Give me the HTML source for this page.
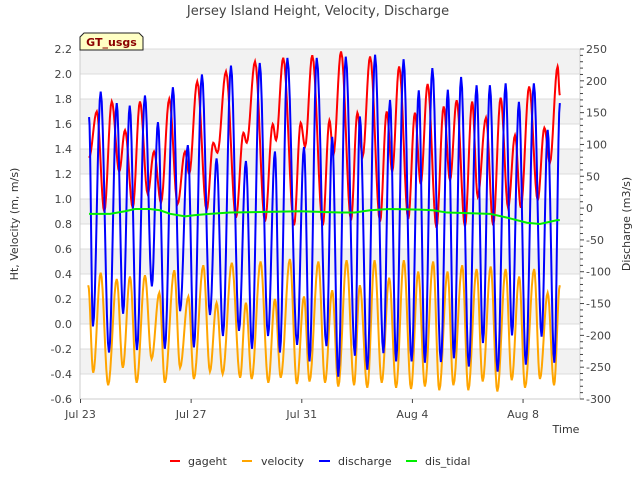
<!DOCTYPE html>
<html><head><meta charset="utf-8"><style>
html,body{margin:0;padding:0;background:#fff;}
svg{display:block;font-family:"DejaVu Sans","Liberation Sans",sans-serif;}
</style></head><body>
<svg id="chart" width="640" height="480" viewBox="0 0 640 480" xmlns="http://www.w3.org/2000/svg">
<text x="318" y="15" text-anchor="middle" font-size="13" fill="#444">Jersey Island Height, Velocity, Discharge</text>
<g id="bands"></g>
<g id="grid"></g>
<g id="series"></g>
<g id="axes"></g>
<g>
<path d="M80,50 L80,37 L84,33 L139,33 L143,37 L143,50 Z" fill="#ffffc4" stroke="#222" stroke-width="1"/>
<text x="111.5" y="46" text-anchor="middle" font-size="11" font-weight="bold" fill="#8b0000">GT_usgs</text>
</g>
<text transform="translate(18,224) rotate(-90)" text-anchor="middle" font-size="11" fill="#333">Ht, Velocity (m, m/s)</text>
<text transform="translate(630,224) rotate(-90)" text-anchor="middle" font-size="11" fill="#333">Discharge (m3/s)</text>
<text x="566" y="433" text-anchor="middle" font-size="11" fill="#333">Time</text>
<g>
<g><line x1="170" y1="461" x2="180" y2="461" stroke="#ff0000" stroke-width="2"/><text x="188" y="465" font-size="11" fill="#333">gageht</text></g>
<g><line x1="242" y1="461" x2="252" y2="461" stroke="#ffa500" stroke-width="2"/><text x="261" y="465" font-size="11" fill="#333">velocity</text></g>
<g><line x1="319" y1="461" x2="330" y2="461" stroke="#0000ff" stroke-width="2"/><text x="338" y="465" font-size="11" fill="#333">discharge</text></g>
<g><line x1="406" y1="461" x2="417" y2="461" stroke="#00ee00" stroke-width="2"/><text x="425" y="465" font-size="11" fill="#333">dis_tidal</text></g>
</g>
</svg>
<script>
// days since Jul 23 00:00
const xTickLabels = ["Jul 23","Jul 27","Jul 31","Aug 4","Aug 8"];
const xTickDays = [0,4,8,12,16];
const leftTicks = [-0.6,-0.4,-0.2,0.0,0.2,0.4,0.6,0.8,1.0,1.2,1.4,1.6,1.8,2.0,2.2];
const rightTicks = [-300,-250,-200,-150,-100,-50,0,50,100,150,200,250];

const dischargeT = [0.31,0.45,0.73,1.03,1.31,1.54,1.78,2.04,2.33,2.58,2.80,3.05,3.34,3.60,3.88,4.10,4.39,4.68,4.92,5.15,5.44,5.73,5.98,6.20,6.48,6.78,7.03,7.21,7.48,7.83,8.08,8.28,8.54,8.89,9.10,9.32,9.59,9.92,10.10,10.37,10.65,10.95,11.19,11.41,11.68,11.97,12.23,12.45,12.72,13.03,13.28,13.50,13.76,14.04,14.32,14.55,14.80,15.08,15.37,15.60,15.85,16.10,16.39,16.67,16.89,17.13,17.33];
const dischargeV = [143,-186,183,-227,165,-166,161,-223,177,-123,135,-221,190,-162,99,-219,210,-168,78,-201,224,-193,74,-221,228,-201,89,-227,236,-215,96,-241,236,-217,112,-265,238,-232,144,-254,241,-228,170,-241,234,-241,185,-243,220,-242,186,-236,206,-249,193,-212,193,-257,196,-200,167,-246,196,-202,123,-243,165];

const gagehtT = [0.31,0.59,0.86,1.13,1.40,1.61,1.89,2.15,2.43,2.66,2.91,3.21,3.51,3.78,3.93,4.22,4.56,4.80,4.95,5.26,5.62,5.89,6.01,6.31,6.67,6.95,7.07,7.33,7.72,7.96,8.12,8.38,8.76,9.00,9.14,9.42,9.78,10.01,10.20,10.47,10.83,11.07,11.27,11.52,11.85,12.09,12.30,12.55,12.87,13.13,13.36,13.60,13.90,14.16,14.36,14.66,14.92,15.19,15.46,15.71,15.92,16.22,16.53,16.77,16.97,17.25,17.33];
const gagehtV = [1.33,1.70,0.90,1.78,1.22,1.55,0.93,1.78,1.04,1.38,0.97,1.80,0.96,1.38,1.20,1.94,0.91,1.45,1.37,2.02,0.85,1.53,1.45,2.10,0.82,1.60,1.47,2.13,0.79,1.61,1.42,2.15,0.79,1.63,1.35,2.18,0.83,1.69,1.34,2.14,0.82,1.70,1.22,2.06,0.84,1.69,1.12,1.92,0.77,1.74,1.15,1.79,0.78,1.78,1.02,1.65,0.79,1.81,0.93,1.51,0.93,1.90,0.99,1.57,1.29,2.06,1.83];

const velocityT = [0.28,0.46,0.73,1.00,1.31,1.53,1.79,2.03,2.33,2.57,2.85,3.05,3.39,3.60,3.90,4.10,4.44,4.68,4.92,5.14,5.47,5.77,5.98,6.19,6.51,6.79,7.03,7.24,7.57,7.82,8.08,8.28,8.60,8.84,9.10,9.32,9.62,9.89,10.10,10.37,10.63,10.89,11.16,11.41,11.69,11.95,12.21,12.45,12.75,12.97,13.27,13.48,13.80,14.02,14.32,14.54,14.83,15.07,15.37,15.59,15.86,16.07,16.40,16.61,16.89,17.12,17.33];
const velocityV = [0.31,-0.39,0.41,-0.49,0.36,-0.35,0.38,-0.47,0.39,-0.28,0.25,-0.47,0.43,-0.35,0.22,-0.44,0.47,-0.38,0.17,-0.40,0.49,-0.43,0.17,-0.44,0.50,-0.47,0.20,-0.43,0.52,-0.48,0.22,-0.46,0.50,-0.47,0.27,-0.50,0.51,-0.49,0.31,-0.51,0.51,-0.47,0.37,-0.51,0.51,-0.52,0.42,-0.50,0.50,-0.53,0.42,-0.49,0.47,-0.53,0.44,-0.46,0.46,-0.54,0.44,-0.45,0.38,-0.51,0.44,-0.44,0.25,-0.49,0.31];

const tidalT = [0.31,1.07,1.61,1.97,2.51,2.87,3.24,3.78,4.14,4.68,5.40,7.94,9.38,9.92,10.47,11.19,12.27,12.74,13.25,13.97,14.81,15.42,16.14,16.61,17.23,17.33];
const tidalV = [-9,-9,-5,-1.4,-1.4,-3.4,-9,-13,-11,-9,-7,-5,-7,-7,-3.4,-1.4,-2.4,-3.4,-7,-8,-9,-15,-23,-25,-19,-19];

const P = {l:80, r:580, t:49, b:399};
const X0 = 80.5, PXD = 27.66;
function xs(d){ return X0 + d*PXD; }
function yl(v){ return P.t + (2.2 - v)/2.8*(P.b-P.t); }
function yr(q){ return P.t + (250 - q)/550*(P.b-P.t); }
const NS="http://www.w3.org/2000/svg";
function mk(tag, attrs, parent){ const e=document.createElementNS(NS,tag); for(const k in attrs) e.setAttribute(k,attrs[k]); parent.appendChild(e); return e; }

const bands=document.getElementById('bands');
const r0 = mk('rect',{x:P.l,y:P.t,width:P.r-P.l,height:P.b-P.t,fill:'#ffffff'},bands);


for(let i=0;i<leftTicks.length-1;i++){
  const hi=leftTicks[leftTicks.length-1-i], lo=leftTicks[leftTicks.length-2-i];
  if(i%2===0){
    const b=mk('rect',{x:P.l,y:yl(hi),width:P.r-P.l,height:yl(lo)-yl(hi),fill:'#f2f2f2'},bands);
    
    
  }
}
const grid=document.getElementById('grid');
leftTicks.forEach(v=>{
  const g=mk('line',{x1:P.l,x2:P.r,y1:yl(v),y2:yl(v),stroke:'#dcdcdc','stroke-width':1},grid);
  
  
});

function smoothPath(T,V,yf){
  let d='M'+xs(T[0]).toFixed(2)+','+yf(V[0]).toFixed(2);
  for(let i=0;i<T.length-1;i++){
    const n=8;
    for(let k=1;k<=n;k++){
      const s=k/n, w=(1-Math.cos(Math.PI*s))/2;
      const t=T[i]+(T[i+1]-T[i])*s, v=V[i]+(V[i+1]-V[i])*w;
      d+=' L'+xs(t).toFixed(2)+','+yf(v).toFixed(2);
    }
  }
  return d;
}
function linePath(T,V,yf){ return T.map((t,i)=>(i?'L':'M')+xs(t).toFixed(2)+','+yf(V[i]).toFixed(2)).join(' '); }
const ser=document.getElementById('series');
const pv=mk('path',{d:smoothPath(velocityT,velocityV,yl),fill:'none',stroke:'#ffa500','stroke-width':2},ser);


const pg=mk('path',{d:smoothPath(gagehtT,gagehtV,yl),fill:'none',stroke:'#ff0000','stroke-width':2},ser);


const pd=mk('path',{d:smoothPath(dischargeT,dischargeV,yr),fill:'none',stroke:'#0000ff','stroke-width':2},ser);


const pt=mk('path',{d:linePath(tidalT,tidalV,yr),fill:'none',stroke:'#00ee00','stroke-width':2},ser);



const ax=document.getElementById('axes');
const f1=mk('line',{x1:P.l,x2:P.l,y1:P.t,y2:P.b,stroke:'#cccccc'},ax);


const f2=mk('line',{x1:P.l,x2:P.r,y1:P.b,y2:P.b,stroke:'#cccccc'},ax);


const f3=mk('line',{x1:P.r,x2:P.r,y1:P.t,y2:P.b,stroke:'#cccccc'},ax);


leftTicks.forEach(v=>{
  const t=mk('text',{x:72,y:yl(v)+4,'text-anchor':'end','font-size':11,fill:'#444'},ax);
  t.textContent=v.toFixed(1);
  
  
});
rightTicks.forEach(q=>{
  const t=mk('text',{x:586,y:yr(q)+4,'font-size':11,fill:'#444'},ax);
  t.textContent=String(q);
  
  
});
for(let q=-300;q<=250;q+=10){
  const m=mk('line',{x1:P.r,x2:P.r+(q%50===0?4:3),y1:yr(q),y2:yr(q),stroke:'#444','stroke-width':1},ax);
  
  
}
xTickDays.forEach((d,i)=>{
  const m=mk('line',{x1:xs(d),x2:xs(d),y1:P.b,y2:P.b+4,stroke:'#444'},ax);
  
  
  const t=mk('text',{x:xs(d),y:P.b+19,'text-anchor':'middle','font-size':11,fill:'#444'},ax);
  t.textContent=xTickLabels[i];
  
  
});
</script>
</body></html>
